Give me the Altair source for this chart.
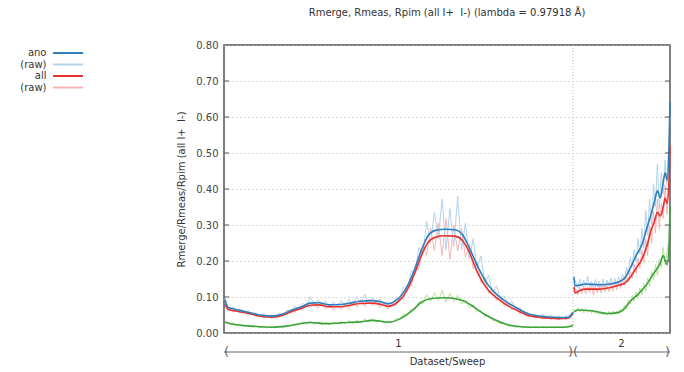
import altair as alt
import pandas as pd

# ---- sweeps (image numbers) ----
sweep_names = ["1", "2"]
sweep_start = [0, 360]
sweep_end = [360, 460]

# ---- smoothed curves (knot images and values) ----
s1_img = [1, 4, 8, 16, 29, 39, 50, 60, 70, 80, 89, 98, 108, 120, 130, 140, 153, 164, 169, 176,
          184, 190, 197, 204, 210, 218, 228, 238, 246, 252, 262, 272, 282, 292, 303, 315, 325,
          345, 355, 358, 360]
ano_s1 = [0.092, 0.072, 0.068, 0.063, 0.055, 0.049, 0.047, 0.052, 0.064, 0.073, 0.083, 0.084,
          0.078, 0.079, 0.083, 0.088, 0.090, 0.085, 0.081, 0.088, 0.108, 0.135, 0.180, 0.233,
          0.268, 0.285, 0.288, 0.287, 0.273, 0.243, 0.183, 0.135, 0.105, 0.085, 0.068, 0.052,
          0.047, 0.043, 0.043, 0.050, 0.058]
all_s1 = [0.080, 0.066, 0.063, 0.059, 0.052, 0.046, 0.044, 0.049, 0.060, 0.069, 0.077, 0.078,
          0.073, 0.073, 0.077, 0.082, 0.083, 0.078, 0.074, 0.080, 0.099, 0.125, 0.168, 0.218,
          0.250, 0.266, 0.270, 0.269, 0.257, 0.230, 0.165, 0.121, 0.096, 0.077, 0.062, 0.048,
          0.044, 0.040, 0.041, 0.047, 0.055]
pim_s1_img = [1, 8, 29, 50, 67, 88, 108, 120, 140, 153, 170, 182, 194, 204, 214, 228, 238, 249,
              259, 270, 280, 297, 315, 350, 358, 360]
pim_s1 = [0.030, 0.025, 0.019, 0.016, 0.020, 0.029, 0.026, 0.028, 0.031, 0.035, 0.030, 0.040,
          0.062, 0.086, 0.096, 0.098, 0.096, 0.087, 0.070, 0.050, 0.036, 0.020, 0.016, 0.016,
          0.019, 0.022]

s2_img = [361, 362, 367, 373, 387, 400, 408, 414, 419, 425, 431, 436, 441, 444, 447, 450, 453,
          455, 457, 459, 460]
ano_s2 = [0.156, 0.131, 0.133, 0.136, 0.134, 0.137, 0.143, 0.155, 0.180, 0.215, 0.245, 0.290,
          0.335, 0.365, 0.395, 0.375, 0.420, 0.445, 0.425, 0.520, 0.640]
all_s2 = [0.128, 0.111, 0.118, 0.122, 0.122, 0.127, 0.133, 0.140, 0.155, 0.180, 0.205, 0.240,
          0.290, 0.310, 0.335, 0.325, 0.350, 0.375, 0.360, 0.420, 0.520]
pim_s2_img = [361, 365, 379, 395, 405, 412, 419, 428, 436, 443, 447, 450, 453, 455, 457, 459, 460]
pim_s2 = [0.059, 0.064, 0.062, 0.054, 0.056, 0.065, 0.088, 0.110, 0.135, 0.165, 0.180, 0.195,
          0.215, 0.200, 0.190, 0.240, 0.350]

# ---- raw per-batch values ----
raw1_img = list(range(1, 358, 4)) + [360]
ano_raw1 = [0.097, 0.066, 0.072, 0.061, 0.068, 0.057, 0.062, 0.050, 0.056, 0.046,
            0.053, 0.044, 0.051, 0.043, 0.055, 0.049, 0.064, 0.057, 0.075, 0.066,
            0.083, 0.072, 0.101, 0.078, 0.093, 0.074, 0.089, 0.070, 0.086, 0.072,
            0.090, 0.075, 0.094, 0.077, 0.101, 0.080, 0.108, 0.083, 0.099, 0.080,
            0.095, 0.076, 0.088, 0.074, 0.098, 0.092, 0.128, 0.118, 0.172, 0.166,
            0.238, 0.215, 0.310, 0.248, 0.335, 0.262, 0.372, 0.231, 0.345, 0.240,
            0.380, 0.232, 0.305, 0.205, 0.262, 0.178, 0.214, 0.138, 0.160, 0.112,
            0.131, 0.095, 0.104, 0.079, 0.088, 0.064, 0.071, 0.053, 0.057, 0.045,
            0.053, 0.043, 0.051, 0.041, 0.050, 0.040, 0.048, 0.039, 0.047, 0.050,
            0.060]
all_raw1 = [0.076, 0.069, 0.058, 0.065, 0.054, 0.060, 0.050, 0.056, 0.045, 0.051,
            0.041, 0.049, 0.040, 0.049, 0.043, 0.055, 0.050, 0.064, 0.057, 0.072,
            0.063, 0.081, 0.070, 0.087, 0.069, 0.084, 0.067, 0.081, 0.064, 0.080,
            0.066, 0.083, 0.068, 0.088, 0.072, 0.092, 0.074, 0.094, 0.075, 0.090,
            0.071, 0.086, 0.066, 0.083, 0.075, 0.100, 0.094, 0.132, 0.130, 0.181,
            0.178, 0.242, 0.215, 0.292, 0.228, 0.305, 0.215, 0.318, 0.205, 0.300,
            0.228, 0.290, 0.210, 0.245, 0.178, 0.198, 0.140, 0.155, 0.110, 0.124,
            0.090, 0.101, 0.076, 0.085, 0.064, 0.071, 0.053, 0.059, 0.045, 0.050,
            0.041, 0.048, 0.039, 0.046, 0.037, 0.045, 0.037, 0.043, 0.037, 0.047,
            0.056]
pim_raw1 = [0.033, 0.025, 0.028, 0.021, 0.025, 0.018, 0.022, 0.016, 0.020, 0.014,
            0.019, 0.014, 0.018, 0.014, 0.019, 0.016, 0.022, 0.019, 0.026, 0.021,
            0.031, 0.024, 0.033, 0.024, 0.030, 0.023, 0.029, 0.023, 0.031, 0.025,
            0.032, 0.026, 0.034, 0.027, 0.036, 0.029, 0.039, 0.031, 0.040, 0.030,
            0.036, 0.028, 0.034, 0.030, 0.040, 0.037, 0.052, 0.049, 0.066, 0.065,
            0.087, 0.080, 0.106, 0.088, 0.112, 0.090, 0.118, 0.086, 0.110, 0.088,
            0.105, 0.080, 0.092, 0.070, 0.078, 0.058, 0.062, 0.046, 0.049, 0.034,
            0.036, 0.025, 0.028, 0.019, 0.023, 0.015, 0.020, 0.014, 0.019, 0.014,
            0.018, 0.014, 0.018, 0.014, 0.018, 0.014, 0.018, 0.015, 0.018, 0.020,
            0.023]

raw2_img = list(range(361, 460, 2)) + [460]
ano_raw2 = [0.150, 0.142, 0.126, 0.150, 0.128, 0.146, 0.129, 0.158, 0.127, 0.143,
            0.126, 0.149, 0.128, 0.144, 0.125, 0.150, 0.127, 0.147, 0.130, 0.152,
            0.131, 0.151, 0.133, 0.156, 0.138, 0.163, 0.146, 0.182, 0.162, 0.210,
            0.184, 0.232, 0.198, 0.262, 0.220, 0.290, 0.236, 0.340, 0.272, 0.372,
            0.300, 0.415, 0.350, 0.470, 0.345, 0.445, 0.385, 0.480, 0.410, 0.540,
            0.600]
all_raw2 = [0.125, 0.120, 0.106, 0.128, 0.110, 0.131, 0.108, 0.130, 0.112, 0.135,
            0.105, 0.130, 0.112, 0.133, 0.110, 0.136, 0.114, 0.133, 0.115, 0.137,
            0.117, 0.139, 0.120, 0.143, 0.124, 0.148, 0.131, 0.160, 0.141, 0.172,
            0.151, 0.192, 0.166, 0.208, 0.180, 0.232, 0.195, 0.262, 0.215, 0.300,
            0.248, 0.338, 0.278, 0.372, 0.290, 0.360, 0.318, 0.410, 0.330, 0.450,
            0.500]
pim_raw2 = [0.066, 0.058, 0.070, 0.059, 0.068, 0.056, 0.067, 0.057, 0.066, 0.055,
            0.064, 0.053, 0.062, 0.051, 0.060, 0.050, 0.058, 0.049, 0.060, 0.050,
            0.061, 0.052, 0.062, 0.054, 0.068, 0.059, 0.077, 0.068, 0.092, 0.080,
            0.105, 0.088, 0.114, 0.097, 0.125, 0.105, 0.138, 0.116, 0.152, 0.130,
            0.172, 0.148, 0.190, 0.160, 0.205, 0.182, 0.238, 0.190, 0.225, 0.262,
            0.330]

y_ticks = [0.1, 0.2, 0.3, 0.4, 0.5, 0.6, 0.7]

series_keys = ["ano", "ano_raw", "all", "all_raw", "pim", "pim_raw"]
series_colors = ["#2e7dbd", "#b3d3ea", "#e8302d", "#f7b4b4", "#3aa33a", "#b9e29a"]

W, H = 446, 288
FONT = "DejaVu Sans"
IPM = "I+ \u00a0I-"  # two-space gap kept in SVG text


def frame(name, parts):
    rows = []
    for sweep, imgs, vals in parts:
        rows.append(pd.DataFrame({"img": imgs, "value": vals, "series": name, "sweep": sweep}))
    return pd.concat(rows, ignore_index=True)


smooth = {
    "ano": frame("ano", [("1", s1_img, ano_s1), ("2", s2_img, ano_s2)]),
    "all": frame("all", [("1", s1_img, all_s1), ("2", s2_img, all_s2)]),
    "pim": frame("pim", [("1", pim_s1_img, pim_s1), ("2", pim_s2_img, pim_s2)]),
}
raw = {
    "ano_raw": frame("ano_raw", [("1", raw1_img, ano_raw1), ("2", raw2_img, ano_raw2)]),
    "all_raw": frame("all_raw", [("1", raw1_img, all_raw1), ("2", raw2_img, all_raw2)]),
    "pim_raw": frame("pim_raw", [("1", raw1_img, pim_raw1), ("2", raw2_img, pim_raw2)]),
}

x_enc = alt.X(
    "img:Q",
    scale=alt.Scale(domain=[0, 460], nice=False, zero=False),
    axis=alt.Axis(title="Dataset/Sweep", labels=False, ticks=False, domain=False, grid=False,
                  titlePadding=23, titleFontSize=10, titleFontWeight="normal", titleColor="#333"),
)
y_enc = alt.Y(
    "value:Q",
    scale=alt.Scale(domain=[0, 0.8], nice=False, zero=False),
    axis=alt.Axis(title=f"Rmerge/Rmeas/Rpim (all {IPM})",
                  values=[0, 0.1, 0.2, 0.3, 0.4, 0.5, 0.6, 0.7, 0.8],
                  format=".2f", grid=True, gridDash=[1, 3], gridColor="#b4b4b4", ticks=False,
                  domain=False, labelPadding=6, labelFontSize=10, labelColor="#444",
                  titlePadding=9, titleFontSize=10, titleFontWeight="normal", titleColor="#333"),
)
# legend: short stroke drawn to the right of a right-aligned label
color_enc = alt.Color(
    "series:N",
    scale=alt.Scale(domain=series_keys, range=series_colors),
    legend=alt.Legend(
        orient="none", legendX=-189.5, legendY=2, title=None,
        values=["ano", "ano_raw", "all", "all_raw"],
        labelExpr="datum.value == 'ano_raw' || datum.value == 'all_raw' ? '(raw)' : datum.value",
        symbolType="M2.5,0H8.5", symbolSize=100, symbolStrokeWidth=2,
        labelAlign="right", labelOffset=0, rowPadding=0.5, padding=0,
        labelFontSize=10, labelColor="#333",
    ),
)

boundary = alt.Chart(pd.DataFrame({"img": [sweep_start[1]]})).mark_rule(
    color="#bbbbbb", strokeDash=[1, 2], strokeWidth=1
).encode(x=x_enc)

layers = [boundary]
for key in ["pim_raw", "all_raw", "ano_raw"]:
    layers.append(
        alt.Chart(raw[key]).mark_line(strokeWidth=1).encode(
            x=x_enc, y=y_enc, color=color_enc, detail="sweep:N")
    )
for key in ["pim", "all", "ano"]:
    layers.append(
        alt.Chart(smooth[key]).mark_line(strokeWidth=1.6, interpolate="monotone").encode(
            x=x_enc, y=y_enc, color=color_enc, detail="sweep:N")
    )

# inward ticks on both vertical edges of the frame
tick_df = pd.DataFrame({"value": y_ticks})
layers.append(alt.Chart(tick_df).mark_rule(color="#555", strokeWidth=1).encode(
    y=y_enc, x=alt.value(0), x2=alt.value(5)))
layers.append(alt.Chart(tick_df).mark_rule(color="#555", strokeWidth=1).encode(
    y=y_enc, x=alt.value(W - 5), x2=alt.value(W)))

# sweep ranges under the plot
sweeps = pd.DataFrame({
    "img": sweep_start, "img_end": sweep_end, "sweep": sweep_names,
})
mids = pd.DataFrame({
    "img": [(a + b) / 2 for a, b in zip(sweep_start, sweep_end)], "sweep": sweep_names,
})
layers.append(alt.Chart(sweeps).mark_rule(color="#666", strokeWidth=1).encode(
    x=x_enc, x2="img_end:Q", y=alt.value(H + 19)))
layers.append(alt.Chart(pd.DataFrame({"img": sweep_start})).mark_text(
    text="(", align="left", baseline="middle", fontSize=13, color="#666", font=FONT
).encode(x=x_enc, y=alt.value(H + 19)))
layers.append(alt.Chart(pd.DataFrame({"img": sweep_end})).mark_text(
    text=")", align="right", baseline="middle", fontSize=13, color="#666", font=FONT
).encode(x=x_enc, y=alt.value(H + 19)))
layers.append(alt.Chart(mids).mark_text(
    baseline="middle", fontSize=10, color="#333", font=FONT
).encode(x=x_enc, y=alt.value(H + 11), text="sweep:N"))

chart = alt.layer(*layers).properties(
    width=W, height=H,
    title=alt.Title(f"Rmerge, Rmeas, Rpim (all {IPM}) (lambda = 0.97918 Å)",
                    fontSize=10, fontWeight="normal", color="#333", offset=22, anchor="middle"),
    padding={"left": 224, "top": 45, "right": 14, "bottom": 39},
    autosize=alt.AutoSizeParams(type="none"),
).configure(font=FONT).configure_view(stroke="#555", strokeWidth=1.5)

chart.save("out.html", embed_options={"renderer": "svg", "actions": False})
